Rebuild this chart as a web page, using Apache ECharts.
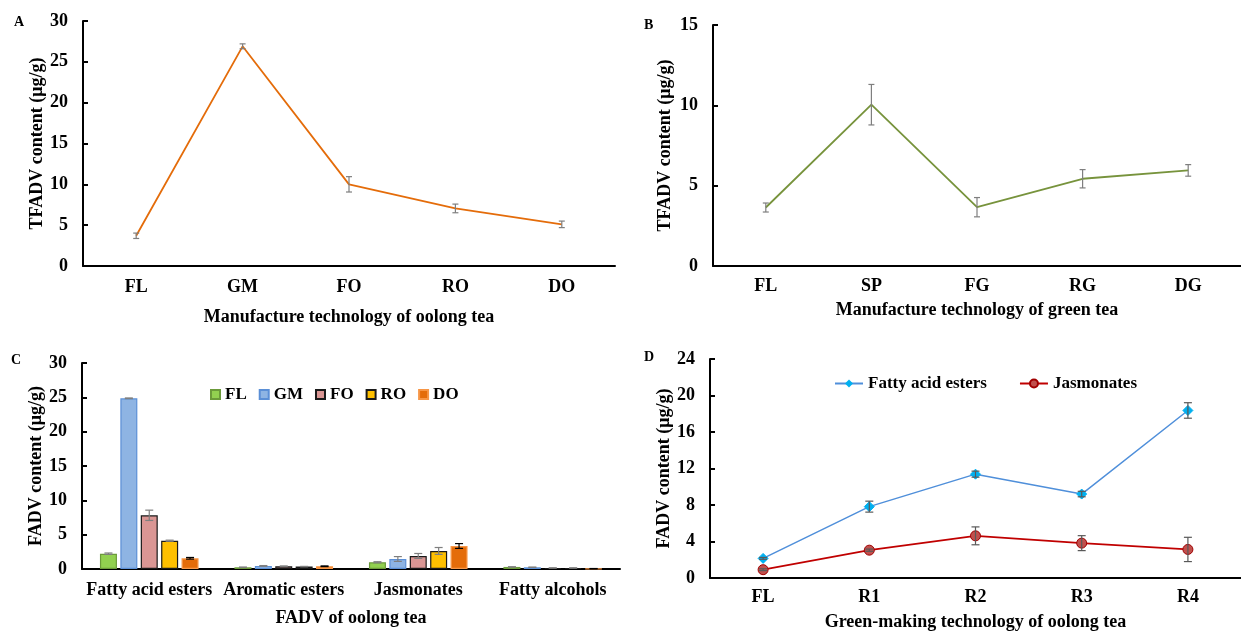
<!DOCTYPE html>
<html>
<head>
<meta charset="utf-8">
<script src="https://cdn.jsdelivr.net/npm/echarts@6/dist/echarts.min.js"></script>
<style>
html,body{margin:0;padding:0;background:#fff;}
#chart{width:1241px;height:632px;}
</style>
</head>
<body>
<div id="chart"></div>
<script>
// ---- Data ----
var catsA = ['FL','GM','FO','RO','DO'];
var valsA = [3.7, 26.9, 10.0, 7.05, 5.1];
var errA  = [0.33, 0.3, 0.94, 0.53, 0.4];

var catsB = ['FL','SP','FG','RG','DG'];
var valsB = [3.64, 10.04, 3.66, 5.43, 5.95];
var errB  = [0.28, 1.26, 0.6, 0.57, 0.36];

var catsC = ['Fatty acid esters','Aromatic esters','Jasmonates','Fatty alcohols'];
var seriesNamesC = ['FL','GM','FO','RO','DO'];
var valsC_FL = [2.23, 0.25, 0.98, 0.3];
var valsC_GM = [24.86, 0.45, 1.46, 0.25];
var valsC_FO = [7.82, 0.4, 1.9, 0.15];
var valsC_RO = [4.12, 0.35, 2.63, 0.15];
var valsC_DO = [1.56, 0.4, 3.35, 0.05];
var errC_FL = [0.1, 0.03, 0.08, 0.02];
var errC_GM = [0.05, 0.05, 0.35, 0.02];
var errC_FO = [0.75, 0.05, 0.36, 0.02];
var errC_RO = [0.08, 0.03, 0.5, 0.02];
var errC_DO = [0.12, 0.05, 0.35, 0.02];

var catsD = ['FL','R1','R2','R3','R4'];
var valsD_FAE = [2.15, 7.82, 11.38, 9.2, 18.36];
var errD_FAE  = [0.1, 0.6, 0.33, 0.3, 0.85];
var valsD_JAS = [0.91, 3.05, 4.62, 3.82, 3.13];
var errD_JAS  = [0.1, 0.12, 0.98, 0.82, 1.33];

// ---- Helpers ----
var FONT = 'Liberation Serif';
var FS = 18;
function errData(vals, errs){
  return vals.map(function(v,i){ return [i, v - errs[i], v + errs[i]]; });
}
function errSeries(xi, yi, vals, errs, color, offset, cap){
  return {
    type:'custom', xAxisIndex:xi, yAxisIndex:yi, z:10, silent:true,
    encode:{x:0, y:[1,2]},
    data: errData(vals, errs),
    renderItem: function(params, api){
      var idx = api.value(0);
      var p1 = api.coord([idx, api.value(1)]);
      var p2 = api.coord([idx, api.value(2)]);
      var x = p1[0] + offset;
      var st = {stroke: color, lineWidth: 1.2};
      return {type:'group', children:[
        {type:'line', shape:{x1:x, y1:p1[1], x2:x, y2:p2[1]}, style:st},
        {type:'line', shape:{x1:x-cap, y1:p1[1], x2:x+cap, y2:p1[1]}, style:st},
        {type:'line', shape:{x1:x-cap, y1:p2[1], x2:x+cap, y2:p2[1]}, style:st}
      ]};
    }
  };
}
function xAx(gi, cats, margin, name, gap){
  return {
    type:'category', gridIndex:gi, data:cats, boundaryGap:true,
    axisLine:{lineStyle:{color:'#000', width:2}},
    axisTick:{inside:true, length:5, lineStyle:{color:'#000', width:2}},
    axisLabel:{color:'#000', fontFamily:FONT, fontWeight:'bold', fontSize:FS, margin:margin, interval:0},
    name:name, nameLocation:'middle', nameGap:gap,
    nameTextStyle:{color:'#000', fontFamily:FONT, fontWeight:'bold', fontSize:FS}
  };
}
function yAx(gi, max, interval, name, gap){
  return {
    type:'value', gridIndex:gi, min:0, max:max, interval:interval,
    axisLine:{show:true, lineStyle:{color:'#000', width:2}},
    axisTick:{show:true, inside:true, length:5, lineStyle:{color:'#000', width:2}},
    splitLine:{show:false},
    axisLabel:{color:'#000', fontFamily:FONT, fontWeight:'bold', fontSize:FS, margin:15},
    name:name, nameLocation:'middle', nameGap:gap, nameRotate:90,
    nameTextStyle:{color:'#000', fontFamily:FONT, fontWeight:'bold', fontSize:FS}
  };
}

// Bar layout for panel C
var BW = 17, BGAP = 0.2;
var pitch = BW * (1 + BGAP);
var colorsC = ['#92D050','#8EB4E3','#DA9694','#FFC000','#E46C0A'];
var bordersC = ['#6B9A3A','#5B8FD6','#1A1A1A','#1A1A1A','#F79646'];
var errColorsC = ['#7F7F7F','#7F7F7F','#7F7F7F','#7F7F7F','#000000'];
var valsC = [valsC_FL, valsC_GM, valsC_FO, valsC_RO, valsC_DO];
var errsC = [errC_FL, errC_GM, errC_FO, errC_RO, errC_DO];

var series = [];
// A
series.push({type:'line', xAxisIndex:0, yAxisIndex:0, data:valsA, symbol:'none',
  lineStyle:{color:'#E46C0A', width:1.8}, itemStyle:{color:'#E46C0A'}});
series.push(errSeries(0,0,valsA,errA,'#7F7F7F',0,3));
// B
series.push({type:'line', xAxisIndex:1, yAxisIndex:1, data:valsB, symbol:'none',
  lineStyle:{color:'#77933C', width:1.8}, itemStyle:{color:'#77933C'}});
series.push(errSeries(1,1,valsB,errB,'#7F7F7F',0,3));
// C
for (var i=0;i<5;i++){
  series.push({type:'bar', name:seriesNamesC[i], xAxisIndex:2, yAxisIndex:2, data:valsC[i],
    barWidth:BW, barGap:(BGAP*100)+'%',
    itemStyle:{color:colorsC[i], borderColor:bordersC[i], borderWidth:1.2}});
}
for (var j=0;j<5;j++){
  series.push(errSeries(2,2,valsC[j],errsC[j],errColorsC[j],(j-2)*pitch,4));
}
// D
series.push({type:'line', name:'Fatty acid esters', xAxisIndex:3, yAxisIndex:3, data:valsD_FAE,
  symbol:'diamond', symbolSize:10,
  lineStyle:{color:'#4F8FDA', width:1.5}, itemStyle:{color:'#00B0F0', borderColor:'#00B0F0'}});
series.push({type:'line', name:'Jasmonates', xAxisIndex:3, yAxisIndex:3, data:valsD_JAS,
  symbol:'circle', symbolSize:10,
  lineStyle:{color:'#C00000', width:1.8}, itemStyle:{color:'#C0504D', borderColor:'#A00000', borderWidth:1}});
series.push(errSeries(3,3,valsD_FAE,errD_FAE,'#595959',0,4));
series.push(errSeries(3,3,valsD_JAS,errD_JAS,'#595959',0,4));

var option = {
  backgroundColor:'#fff',
  animation:false,
  grid:[
    {left:83, top:21, width:532, height:245},
    {left:713, top:25, width:530, height:241},
    {left:82, top:363, width:538, height:206},
    {left:710, top:359, width:531, height:220}
  ],
  xAxis:[
    xAx(0, catsA, 12, 'Manufacture technology of oolong tea', 42),
    xAx(1, catsB, 11, 'Manufacture technology of green tea', 35),
    xAx(2, catsC, 12, 'FADV of oolong tea', 40),
    xAx(3, catsD, 10, 'Green-making technology of oolong tea', 35)
  ],
  yAxis:[
    yAx(0, 30, 5, 'TFADV content (μg/g)', 35),
    yAx(1, 15, 5, 'TFADV content (μg/g)', 39),
    yAx(2, 30, 5, 'FADV content (μg/g)', 37),
    yAx(3, 24, 4, 'FADV content (μg/g)', 35)
  ],
  legend:[
    {data:seriesNamesC, left:205, top:381, icon:'rect', itemWidth:9, itemHeight:9, itemGap:12,
      textStyle:{color:'#000', fontFamily:FONT, fontWeight:'bold', fontSize:17}},
    {data:['Fatty acid esters','Jasmonates'], left:829, top:370, itemWidth:28, itemHeight:10, itemGap:32,
      textStyle:{color:'#000', fontFamily:FONT, fontWeight:'bold', fontSize:17}}
  ],
  graphic:[
    {type:'text', left:14, top:15, style:{text:'A', fontFamily:FONT, fontWeight:'bold', fontSize:14, fill:'#000'}},
    {type:'text', left:644, top:18, style:{text:'B', fontFamily:FONT, fontWeight:'bold', fontSize:14, fill:'#000'}},
    {type:'text', left:11, top:353, style:{text:'C', fontFamily:FONT, fontWeight:'bold', fontSize:14, fill:'#000'}},
    {type:'text', left:644, top:350, style:{text:'D', fontFamily:FONT, fontWeight:'bold', fontSize:14, fill:'#000'}}
  ],
  series:series
};
var chart = echarts.init(document.getElementById('chart'), null, {renderer:'canvas'});
chart.setOption(option);
</script>
</body>
</html>
